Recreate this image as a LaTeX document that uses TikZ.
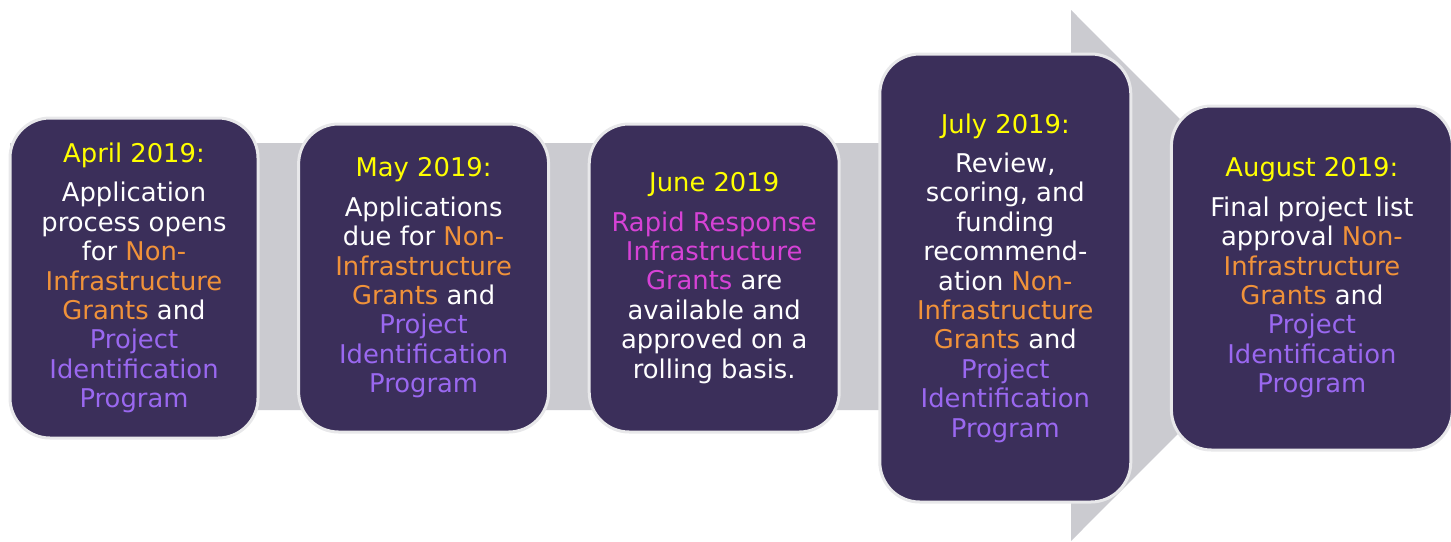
\documentclass[tikz,border=0pt]{standalone}
\usepackage{fontspec}
\setmainfont{DejaVu Sans}
\usepackage{xcolor}
\usepackage{tikz}
\usetikzlibrary{positioning}
\definecolor{boxfill}{HTML}{3B2F5A}
\definecolor{boxrim}{HTML}{E8E8EA}
\definecolor{bandgray}{HTML}{CBCBD0}
\definecolor{dateyellow}{HTML}{FFFF00}
\definecolor{grantorange}{HTML}{F0923A}
\definecolor{progpurple}{HTML}{9A68F0}
\definecolor{rapidpink}{HTML}{D642D6}
\newcommand{\dateline}[1]{\textcolor{dateyellow}{#1}\\[5pt]}
\newcommand{\orng}[1]{\textcolor{grantorange}{#1}}
\newcommand{\purp}[1]{\textcolor{progpurple}{#1}}
\newcommand{\pink}[1]{\textcolor{rapidpink}{#1}}

\begin{document}
\begin{tikzpicture}
		[x=0.5pt,y=-0.5pt,node distance=18.8pt,
		every node/.style={font=\fontsize{12.9}{14.7}\selectfont,text=white,align=center},
		stage/.style={draw=boxrim,line width=1.5pt,fill=boxfill,rounded corners=20pt,
			minimum width=125pt,minimum height=154pt,inner sep=0pt},
		tall stage/.style={stage,minimum width=125.5pt,minimum height=224pt},
		wide stage/.style={stage,minimum width=140.5pt,minimum height=172pt}]
		\useasboundingbox (0,0) rectangle (1451,541);
		% gray arrow behind the boxes
		\fill[bandgray] (10,143) -- (1071,143) -- (1071,10) -- (1336,275.5)
			-- (1071,541) -- (1071,410) -- (10,410) -- cycle;
		\node[stage,minimum width=124pt,minimum height=160pt] (april) at (134,278) {\dateline{April 2019:}
			Application\\ process opens\\ for \orng{Non-}\\ \orng{Infrastructure}\\
			\orng{Grants} and\\ \purp{Project}\\ \purp{Identification}\\ \purp{Program}};
		\node[stage,right=of april] (may) {\dateline{May 2019:}
			Applications\\ due for \orng{Non-}\\ \orng{Infrastructure}\\
			\orng{Grants} and\\ \purp{Project}\\ \purp{Identification}\\ \purp{Program}};
		\node[stage,right=of may] (june) {\dateline{June 2019}
			\pink{Rapid Response}\\ \pink{Infrastructure}\\ \pink{Grants} are\\
			available and\\ approved on a\\ rolling basis.};
		\node[tall stage,right=of june] (july) {\dateline{July 2019:}
			Review,\\ scoring, and\\ funding\\ recommend-\\ ation \orng{Non-}\\
			\orng{Infrastructure}\\ \orng{Grants} and\\ \purp{Project}\\
			\purp{Identification}\\ \purp{Program}};
		\node[wide stage,right=of july] (august) {\dateline{August 2019:}
			Final project list\\ approval \orng{Non-}\\ \orng{Infrastructure}\\
			\orng{Grants} and\\ \purp{Project}\\ \purp{Identification}\\ \purp{Program}};
\end{tikzpicture}
\end{document}
